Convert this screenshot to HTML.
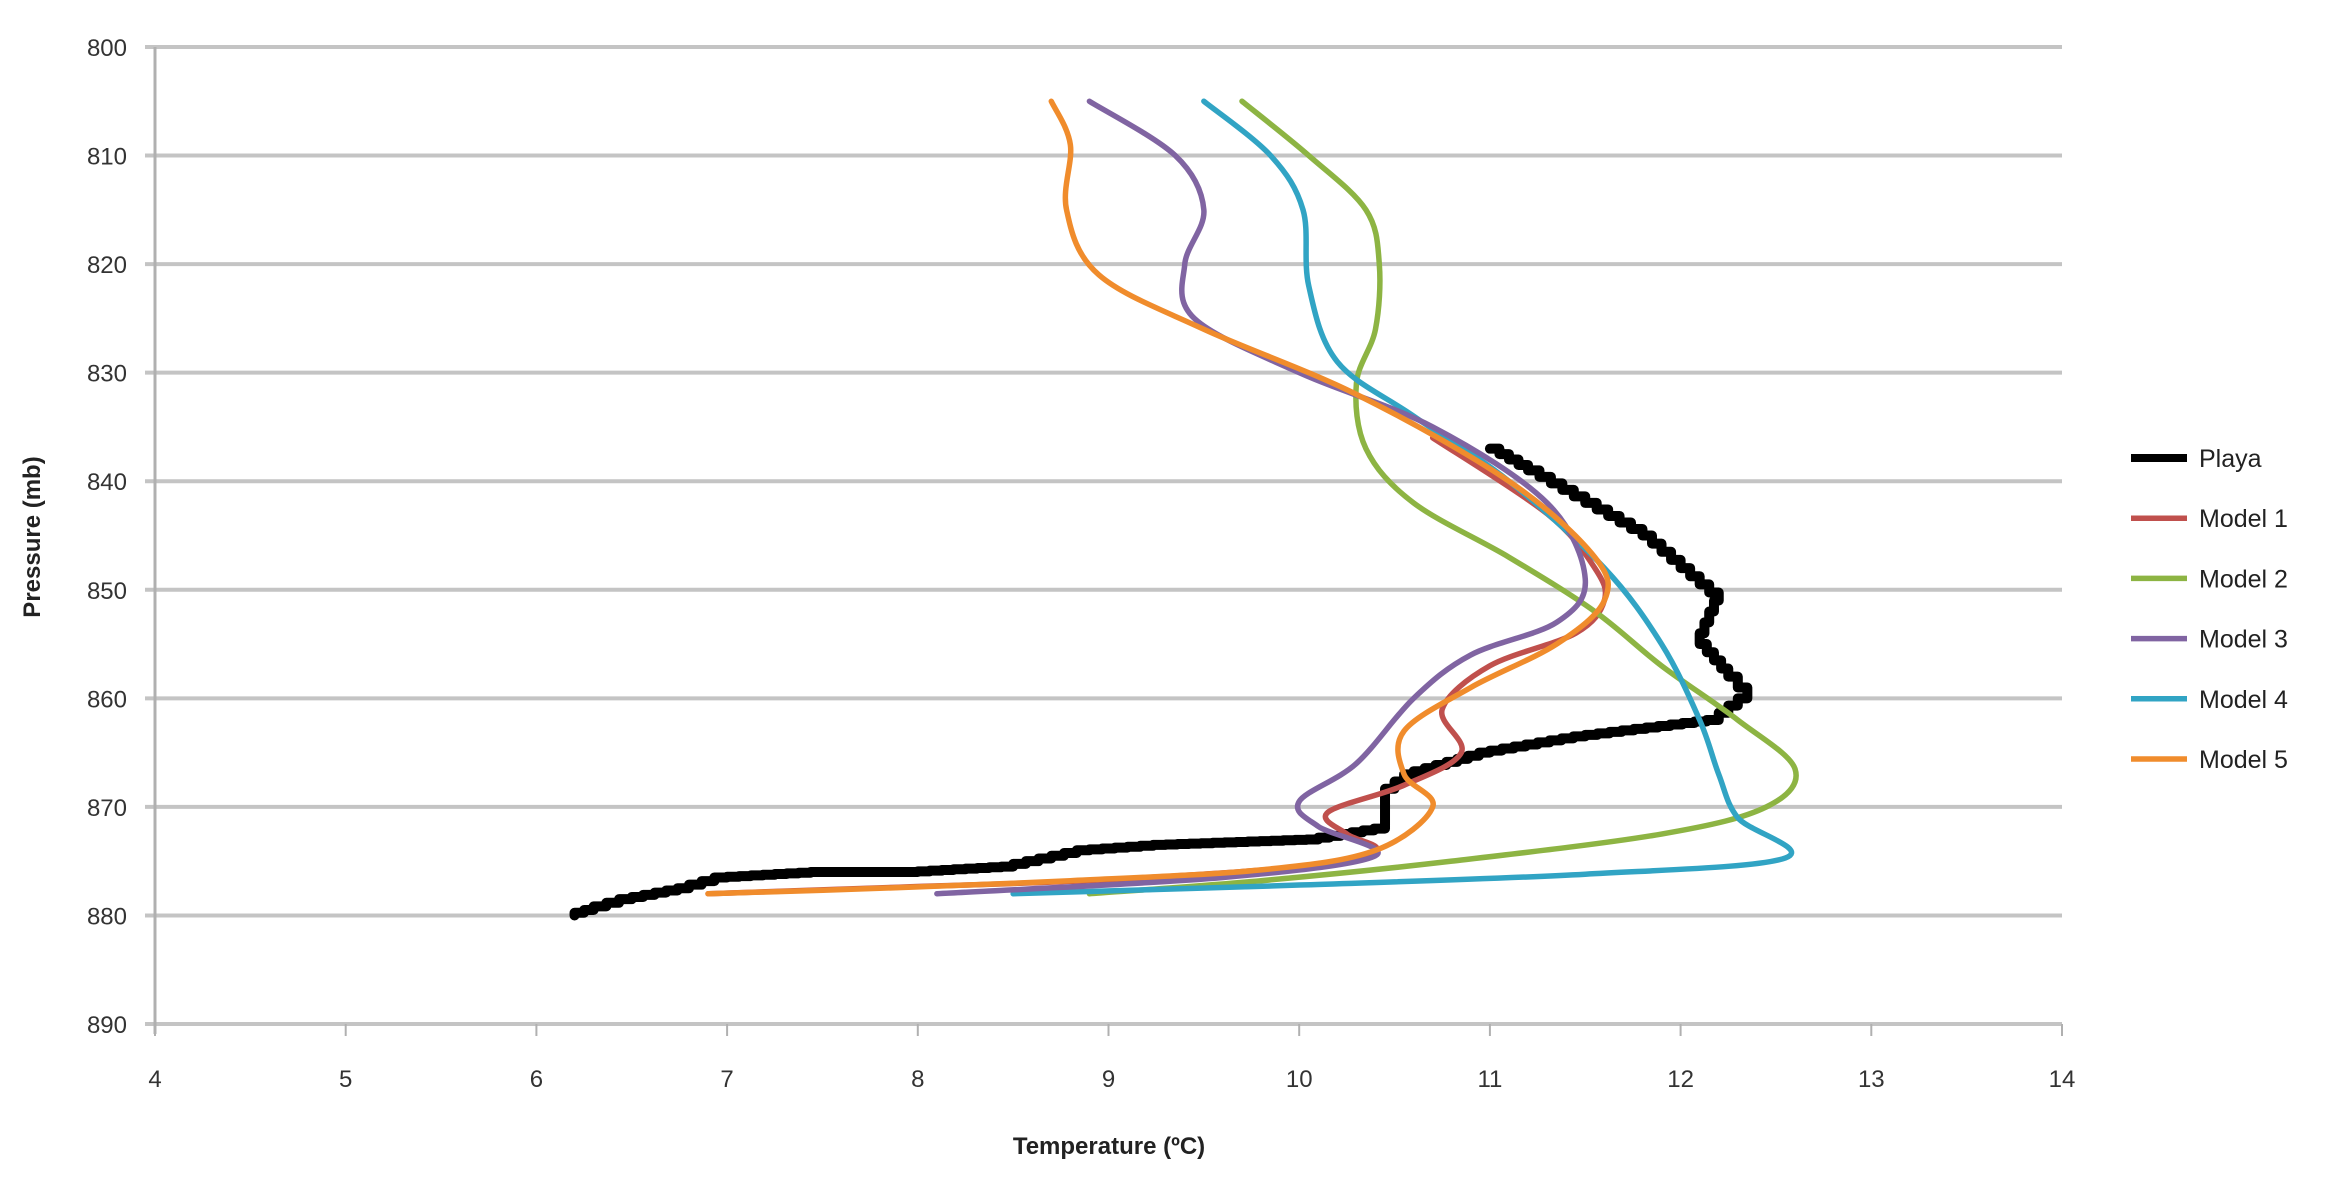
<!DOCTYPE html>
<html><head><meta charset="utf-8"><style>
html,body{margin:0;padding:0;background:#fff;}
svg{display:block;font-family:"Liberation Sans",sans-serif;}
</style></head><body>
<svg id="chart" width="2345" height="1183" viewBox="0 0 2345 1183">
<g id="grid"></g>
<g id="axes"></g>
<g id="series"></g>
<g id="legend"></g>
<text x="1109" y="1154" text-anchor="middle" font-size="24" font-weight="bold" fill="#222">Temperature (ºC)</text>
<text transform="translate(40,537) rotate(-90)" text-anchor="middle" font-size="24" font-weight="bold" fill="#222">Pressure (mb)</text>
</svg>
<script>
const xTicks=[4,5,6,7,8,9,10,11,12,13,14];
const yTicks=[800,810,820,830,840,850,860,870,880,890];
const seriesNames=["Playa","Model 1","Model 2","Model 3","Model 4","Model 5"];
const seriesColors=["#000000","#c0504d","#8db443","#8064a2","#31a4c4","#f08c2c"];
const playaT=[11.0,11.2,11.5,11.8,12.0,12.2,12.1,12.25,12.35,12.2,11.5,11.0,10.6,10.45,10.45,10.1,9.3,8.9,8.5,8.0,7.5,7.0,6.8,6.5,6.3,6.2];
const playaP=[837,839,842,845,848,851,855,858,860,862,863.5,865,867,869,872,873,873.5,874,875.5,876,876,876.5,877.5,878.5,879.5,880];
const m1T=[10.7,11.3,11.55,11.6,11.45,11.0,10.75,10.85,10.55,10.15,10.25,10.4,10.0,9.0,7.9,6.9];
const m1P=[836,843,848,851,854,857,861,865,868,870.5,872.5,874,875.5,876.7,877.4,878];
const m2T=[9.7,10.05,10.35,10.42,10.4,10.3,10.35,10.6,11.1,11.55,11.9,12.3,12.6,12.45,11.9,10.8,9.8,8.9];
const m2P=[805,810,815,820,826,831,837,842,847,852,857,862,866.5,870,872.5,875,876.8,878];
const m3T=[8.9,9.35,9.5,9.4,9.45,10.0,10.7,11.3,11.5,11.35,10.9,10.6,10.3,10.0,10.1,10.4,9.6,8.1];
const m3P=[805,810,815,820,825,830,835,842,849,853,856,860,866,869.5,871.8,874.5,876.5,878];
const m4T=[9.5,9.85,10.02,10.05,10.2,10.6,11.1,11.6,11.9,12.1,12.2,12.3,12.55,11.5,10.0,8.5];
const m4P=[805,810,815,822,829,834,840,848,855,862,867,871,874.7,876.2,877.2,878];
const m5T=[8.7,8.8,8.78,8.95,9.5,10.3,11.1,11.55,11.6,11.35,10.9,10.55,10.55,10.7,10.4,9.8,8.8,7.8,6.9];
const m5P=[805,809,815,821,826,832,840,847,851,855,859,863,867,870,874,875.8,876.8,877.5,878];

const L=155,R=2062,T=47,B=1024;
const xs=t=>L+(t-4)/10*(R-L);
const ys=p=>T+(p-800)/90*(B-T);
const NS="http://www.w3.org/2000/svg";
function mk(tag,parent,attrs){const e=document.createElementNS(NS,tag);for(const k in attrs)e.setAttribute(k,attrs[k]);parent.appendChild(e);return e;}
const grid=document.getElementById('grid'),axes=document.getElementById('axes'),ser=document.getElementById('series'),leg=document.getElementById('legend');
yTicks.forEach(p=>{
  const l=mk('line',grid,{x1:L-10,x2:R,y1:ys(p),y2:ys(p),stroke:'#c4c4c4','stroke-width':4});
  
  
  const t=mk('text',axes,{x:L-28,y:ys(p)+9,'text-anchor':'end','font-size':24,fill:'#333'});
  t.textContent=p;
  
  
});
const ya=mk('line',axes,{x1:L,x2:L,y1:T,y2:B+10,stroke:'#b0b0b0','stroke-width':3});


xTicks.forEach(v=>{
  const tk=mk('line',axes,{x1:xs(v),x2:xs(v),y1:B,y2:B+12,stroke:'#b0b0b0','stroke-width':2});
  
  
  const t=mk('text',axes,{x:xs(v),y:B+63,'text-anchor':'middle','font-size':24,fill:'#333'});
  t.textContent=v;
  
  
});
function smooth(tA,pA){
  const pts=tA.map((t,i)=>[xs(t),ys(pA[i])]);
  let d='M'+pts[0][0]+','+pts[0][1];
  for(let i=0;i<pts.length-1;i++){
    const p0=pts[Math.max(0,i-1)],p1=pts[i],p2=pts[i+1],p3=pts[Math.min(pts.length-1,i+2)];
    const c1=[p1[0]+(p2[0]-p0[0])/6,p1[1]+(p2[1]-p0[1])/6];
    const c2=[p2[0]-(p3[0]-p1[0])/6,p2[1]-(p3[1]-p1[1])/6];
    d+=` C${c1[0]},${c1[1]} ${c2[0]},${c2[1]} ${p2[0]},${p2[1]}`;
  }
  return d;
}
function stepPath(tA,pA){
  let d='M'+xs(tA[0])+','+ys(pA[0]);
  for(let i=1;i<tA.length;i++){
    const x0=xs(tA[i-1]),y0=ys(pA[i-1]),x1=xs(tA[i]),y1=ys(pA[i]);
    const n=Math.max(2,Math.round(Math.hypot(x1-x0,y1-y0)/12));
    for(let k=1;k<=n;k++){
      const xa=x0+(x1-x0)*k/n,ya2=y0+(y1-y0)*k/n;
      d+=` L${xa},${y0+(y1-y0)*(k-1)/n} L${xa},${ya2}`;
    }
  }
  return d;
}
const data=[[playaT,playaP],[m1T,m1P],[m2T,m2P],[m3T,m3P],[m4T,m4P],[m5T,m5P]];
const order=[0,1,2,4,3,5];
order.forEach(i=>{
  const d=i===0?stepPath(data[i][0],data[i][1]):smooth(data[i][0],data[i][1]);
  const p=mk('path',ser,{d:d,fill:'none',stroke:seriesColors[i],'stroke-width':i===0?10:5.5,'stroke-linejoin':'round','stroke-linecap':'round'});
  
  
});
seriesNames.forEach((n,i)=>{
  const y=458+i*60.2;
  const l=mk('line',leg,{x1:2131,x2:2187,y1:y,y2:y,stroke:seriesColors[i],'stroke-width':i===0?8:5.5});
  
  
  const t=mk('text',leg,{x:2199,y:y+9,'font-size':25,fill:'#222'});
  t.textContent=n;
  
  
});
</script>
</body></html>
